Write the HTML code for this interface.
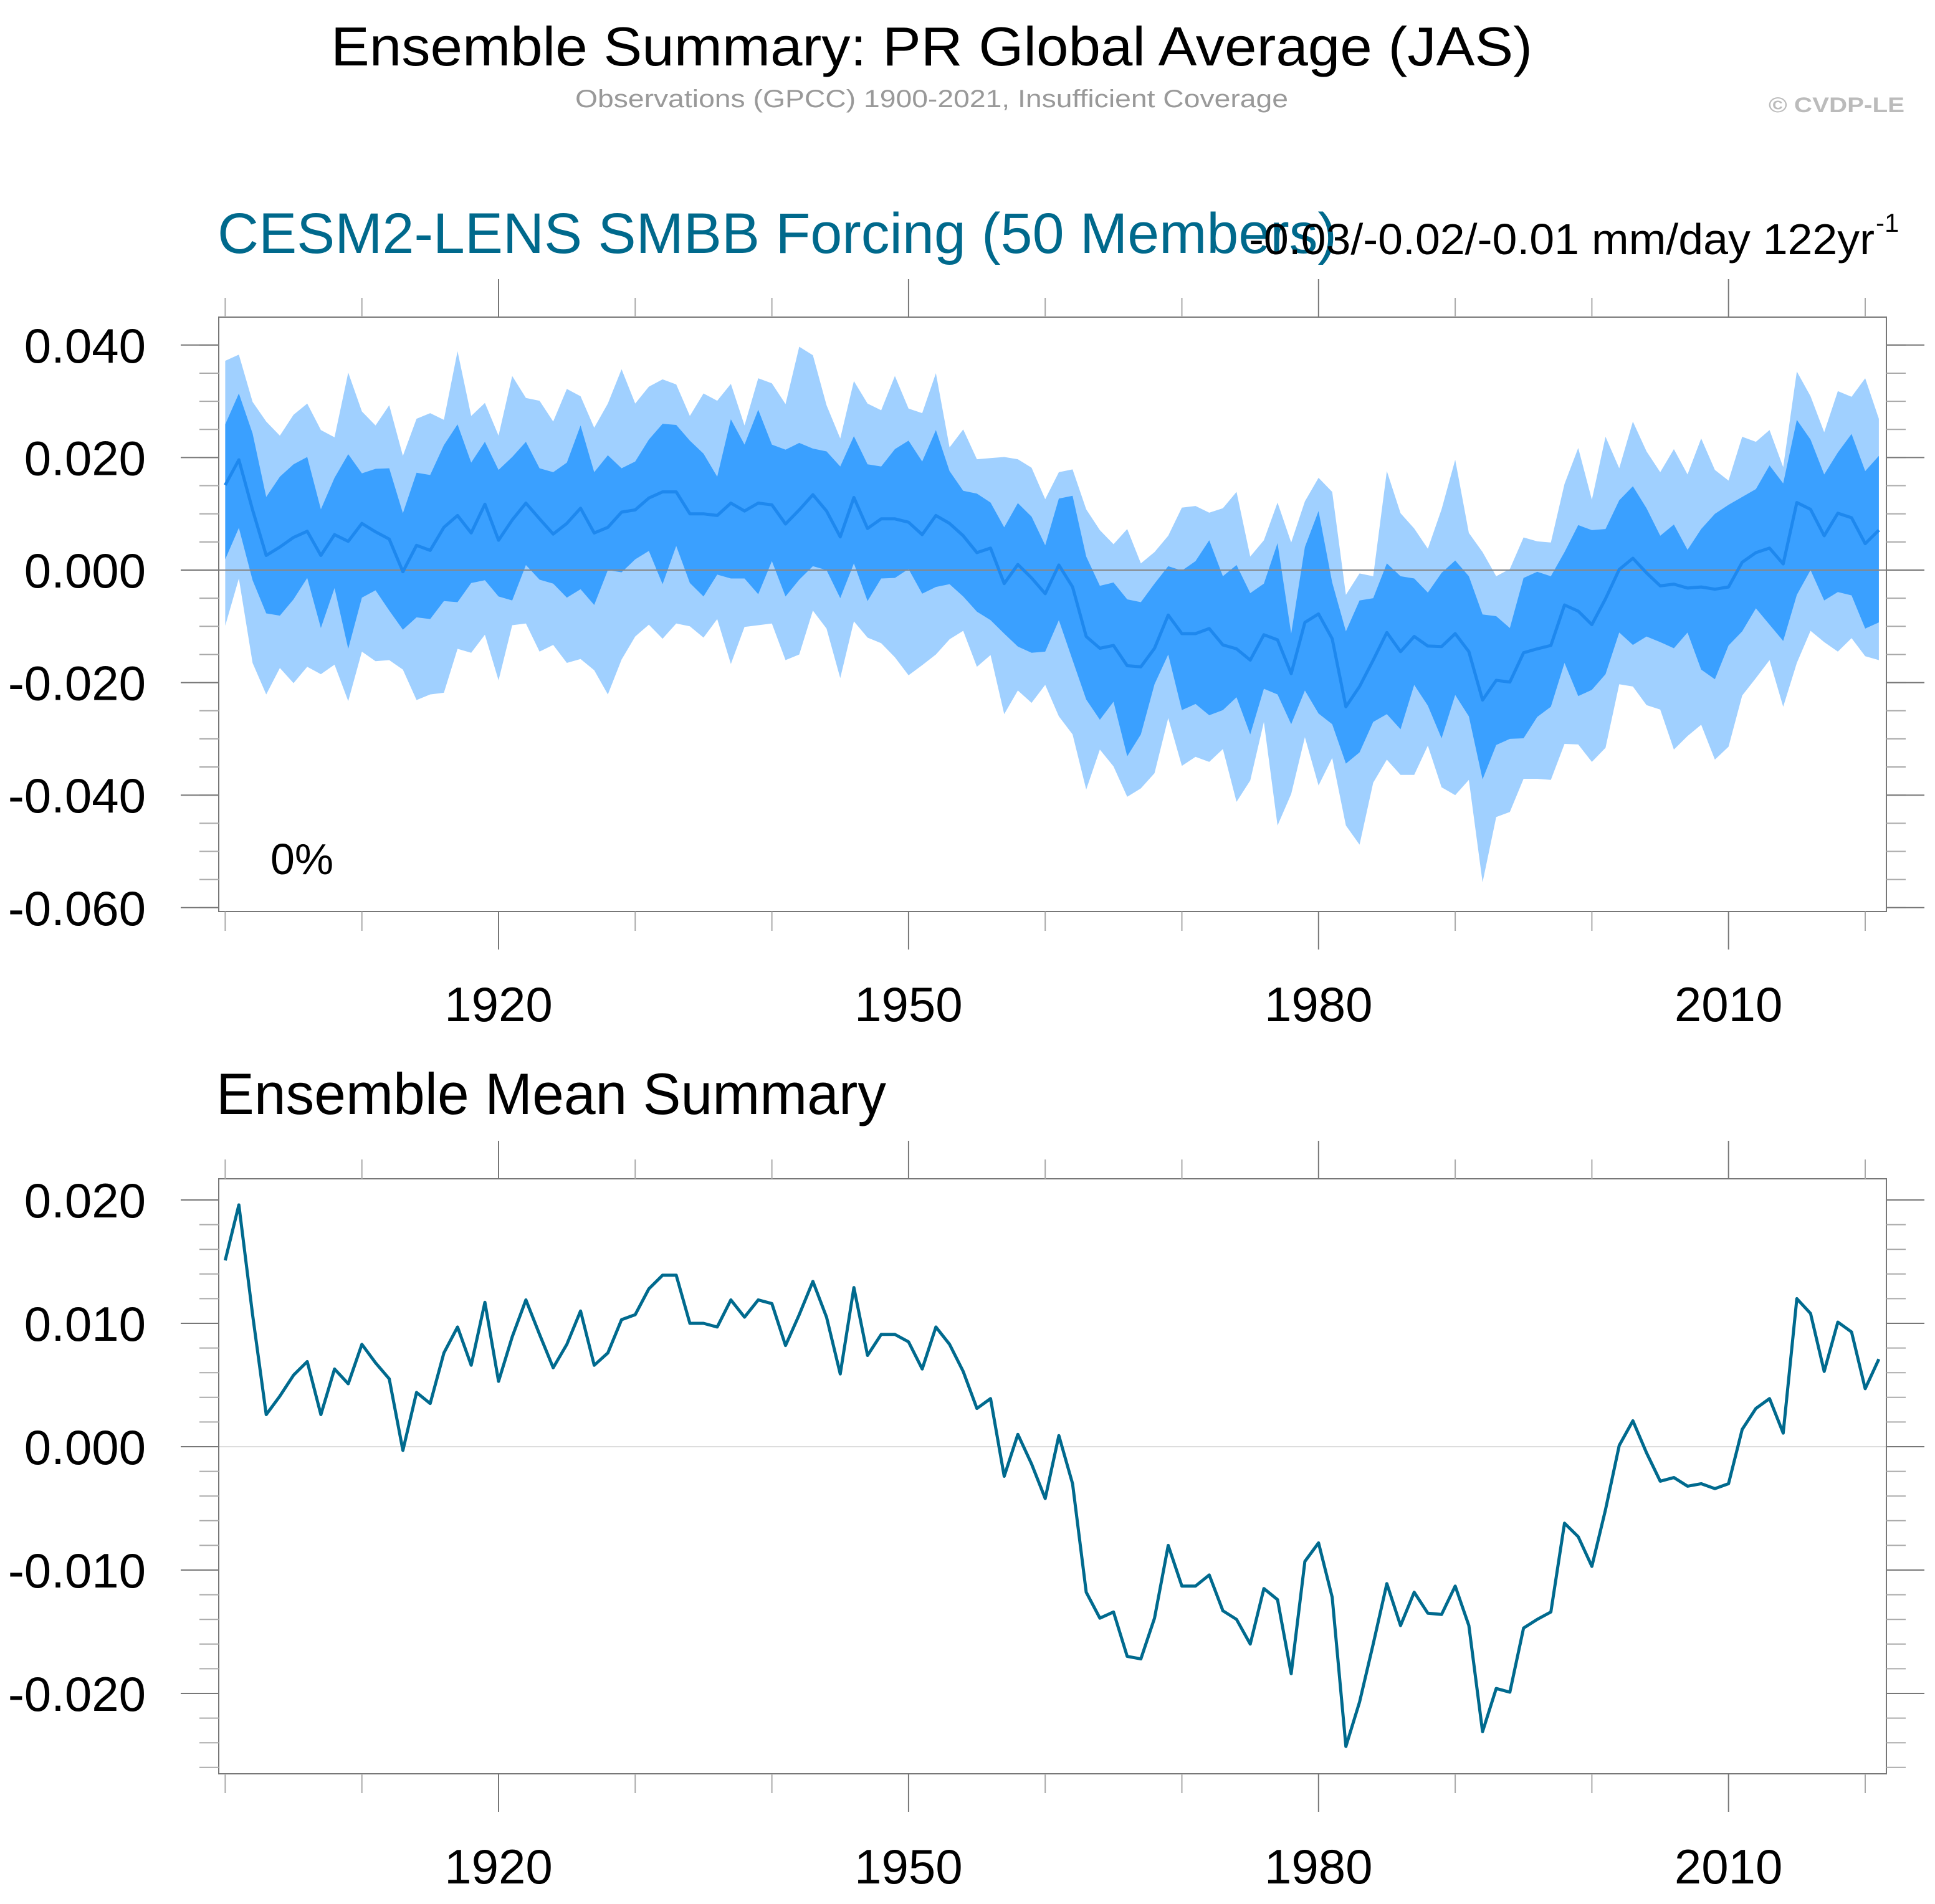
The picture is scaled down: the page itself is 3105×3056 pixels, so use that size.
<!DOCTYPE html>
<html><head><meta charset="utf-8"><title>Ensemble Summary: PR Global Average (JAS)</title>
<style>html,body{margin:0;padding:0;background:#fff}svg{display:block}text{font-family:"Liberation Sans",Arial,sans-serif}</style>
</head><body>
<svg id="chart" xmlns="http://www.w3.org/2000/svg" width="3105" height="3056" viewBox="0 0 3105 3056">
<rect x="0" y="0" width="3105" height="3056" fill="#fff"/>
<text x="531" y="105" font-size="88" textLength="1928" lengthAdjust="spacingAndGlyphs" fill="#000">Ensemble Summary: PR Global Average (JAS)</text>
<text x="923" y="172" font-size="40" textLength="1144" lengthAdjust="spacingAndGlyphs" fill="#999">Observations (GPCC) 1900-2021, Insufficient Coverage</text>
<text x="2838" y="180" font-size="34" font-weight="bold" textLength="218" lengthAdjust="spacingAndGlyphs" fill="#bbb">© CVDP-LE</text>
<text x="349" y="406" font-size="92" textLength="1796" lengthAdjust="spacingAndGlyphs" fill="#00698c">CESM2-LENS SMBB Forcing (50 Members)</text>
<text x="2004" y="408" font-size="70" textLength="1004" lengthAdjust="spacingAndGlyphs" fill="#000">-0.03/-0.02/-0.01 mm/day 122yr</text>
<text x="3010" y="372" font-size="42" fill="#000">-1</text>
<text x="347" y="1788" font-size="94" textLength="1075" lengthAdjust="spacingAndGlyphs" fill="#000">Ensemble Mean Summary</text>
<g id="top"></g>
<g id="bottom"></g>
</svg>
<script>
// Values in hundredths of mm/day (0.01 mm/day units), years 1900-2021
const startYear = 1900;
const meanVals = [1.51,1.96,1.07,0.26,0.41,0.58,0.69,0.26,0.63,0.51,0.83,0.68,0.55,-0.03,0.44,0.35,0.76,0.97,0.66,1.17,0.53,0.89,1.19,0.91,0.64,0.83,1.10,0.66,0.76,1.03,1.07,
1.28,1.39,1.39,1.00,1.00,0.97,1.19,1.05,1.19,1.16,0.82,1.07,1.34,1.05,0.59,1.29,0.74,0.91,0.91,0.85,0.63,0.97,0.83,0.61,0.31,0.39,-0.24,0.10,-0.14,-0.42,0.09,
-0.30,-1.18,-1.39,-1.34,-1.70,-1.72,-1.39,-0.80,-1.13,-1.13,-1.04,-1.33,-1.40,-1.60,-1.15,-1.24,-1.84,-0.93,-0.78,-1.22,-2.43,-2.07,-1.60,-1.11,-1.45,-1.18,-1.35,-1.36,-1.13,-1.45,
-2.31,-1.96,-1.99,-1.47,-1.40,-1.34,-0.62,-0.73,-0.97,-0.51,0.01,0.21,-0.05,-0.28,-0.25,-0.32,-0.30,-0.34,-0.30,0.14,0.31,0.39,0.11,1.20,1.08,0.61,1.01,0.93,0.47,0.71];
const outerUpper = [3.72,3.83,2.99,2.64,2.39,2.76,2.96,2.49,2.36,3.51,2.82,2.57,2.93,2.03,2.69,2.79,2.67,3.89,2.74,2.97,2.39,3.45,3.06,3.01,2.64,3.22,3.09,2.53,2.96,3.57,2.96,
3.26,3.39,3.30,2.74,3.14,3.01,3.31,2.57,3.41,3.32,2.95,3.97,3.82,2.93,2.34,3.36,2.96,2.84,3.45,2.87,2.79,3.50,2.18,2.50,1.97,1.99,2.01,1.97,1.82,1.26,1.74,
1.79,1.08,0.71,0.46,0.73,0.12,0.32,0.61,1.11,1.14,1.02,1.10,1.39,0.24,0.53,1.20,0.49,1.22,1.64,1.39,-0.44,-0.06,-0.11,1.76,1.01,0.74,0.38,1.08,1.96,0.66,
0.32,-0.11,0.02,0.58,0.51,0.49,1.53,2.17,1.25,2.37,1.81,2.64,2.11,1.74,2.15,1.70,2.34,1.78,1.59,2.37,2.28,2.49,1.83,3.53,3.09,2.45,3.18,3.08,3.41,2.69];
const innerUpper = [2.59,3.14,2.43,1.30,1.66,1.88,2.01,1.08,1.64,2.06,1.72,1.80,1.81,1.01,1.73,1.69,2.22,2.59,1.91,2.28,1.78,2.01,2.28,1.81,1.74,1.91,2.57,1.74,2.04,1.81,1.93,
2.32,2.60,2.58,2.30,2.07,1.66,2.68,2.23,2.85,2.23,2.14,2.26,2.16,2.11,1.84,2.38,1.88,1.84,2.15,2.30,1.93,2.49,1.76,1.41,1.36,1.20,0.76,1.19,0.95,0.44,1.27,
1.32,0.24,-0.28,-0.22,-0.52,-0.57,-0.24,0.07,-0.01,0.16,0.53,-0.11,0.09,-0.41,-0.24,0.48,-1.13,0.41,1.05,-0.22,-1.09,-0.54,-0.50,0.12,-0.11,-0.15,-0.40,-0.05,0.17,-0.11,
-0.79,-0.82,-1.03,-0.14,-0.03,-0.11,0.32,0.80,0.71,0.73,1.24,1.49,1.10,0.61,0.81,0.36,0.73,1.00,1.16,1.30,1.44,1.86,1.54,2.67,2.32,1.70,2.09,2.42,1.76,2.03];
const innerLower = [0.19,0.75,-0.18,-0.77,-0.81,-0.52,-0.14,-1.03,-0.32,-1.40,-0.49,-0.36,-0.72,-1.06,-0.84,-0.87,-0.55,-0.57,-0.23,-0.18,-0.47,-0.54,0.09,-0.17,-0.24,-0.49,-0.34,-0.62,0.00,-0.04,0.19,
0.34,-0.25,0.43,-0.23,-0.47,-0.08,-0.15,-0.15,-0.43,0.16,-0.47,-0.17,0.07,0.00,-0.50,0.12,-0.55,-0.15,-0.14,0.02,-0.42,-0.30,-0.25,-0.47,-0.74,-0.89,-1.13,-1.36,-1.47,-1.45,-0.89,
-1.60,-2.30,-2.66,-2.34,-3.31,-2.92,-2.03,-1.50,-2.49,-2.38,-2.58,-2.49,-2.26,-2.92,-2.11,-2.21,-2.74,-2.14,-2.55,-2.74,-3.44,-3.24,-2.70,-2.56,-2.83,-2.04,-2.41,-2.99,-2.22,-2.60,
-3.72,-3.11,-3.00,-2.99,-2.61,-2.43,-1.65,-2.24,-2.13,-1.85,-1.11,-1.33,-1.18,-1.28,-1.39,-1.11,-1.77,-1.94,-1.34,-1.09,-0.68,-0.97,-1.26,-0.44,0.00,-0.54,-0.39,-0.45,-1.04,-0.93];
const outerLower = [-0.99,-0.15,-1.65,-2.21,-1.74,-2.01,-1.72,-1.85,-1.68,-2.33,-1.45,-1.62,-1.60,-1.77,-2.31,-2.21,-2.18,-1.40,-1.47,-1.15,-1.96,-0.98,-0.95,-1.45,-1.33,-1.65,-1.58,-1.78,-2.21,-1.59,-1.18,
-0.97,-1.22,-0.95,-1.00,-1.20,-0.87,-1.67,-1.01,-0.98,-0.95,-1.60,-1.50,-0.72,-1.04,-1.92,-0.91,-1.20,-1.30,-1.55,-1.87,-1.69,-1.50,-1.23,-1.08,-1.72,-1.51,-2.56,-2.14,-2.36,-2.04,-2.60,
-2.92,-3.90,-3.19,-3.49,-4.03,-3.88,-3.61,-2.63,-3.48,-3.32,-3.41,-3.18,-4.12,-3.74,-2.70,-4.54,-3.98,-2.97,-3.83,-3.34,-4.54,-4.88,-3.78,-3.37,-3.64,-3.64,-3.12,-3.86,-4.00,-3.73,
-5.55,-4.39,-4.30,-3.71,-3.71,-3.73,-3.09,-3.10,-3.41,-3.16,-2.03,-2.07,-2.40,-2.48,-3.19,-2.95,-2.75,-3.37,-3.14,-2.23,-1.92,-1.60,-2.43,-1.65,-1.08,-1.28,-1.45,-1.21,-1.53,-1.60];
const xMajorTicks = [1920, 1950, 1980, 2010];
const xMinorTicks = [1900, 1910, 1930, 1940, 1960, 1970, 1990, 2000, 2020];
const topYTicks = [0.040, 0.020, 0.000, -0.020, -0.040, -0.060];
const topYTickLabels = ["0.040", "0.020", "0.000", "-0.020", "-0.040", "-0.060"];
const bottomYTicks = [0.020, 0.010, 0.000, -0.010, -0.020];
const bottomYTickLabels = ["0.020", "0.010", "0.000", "-0.010", "-0.020"];

const NS = "http://www.w3.org/2000/svg";
const FL = 351, FR = 3027;
const xOf = yr => 361.4 + (yr - 1900) * 21.93;
const topP = {g: document.getElementById('top'), top: 509, bot: 1463, zero: 915, ppu: 9030, minor: 0.005, label: 1639, name: 'top'};
const botP = {g: document.getElementById('bottom'), top: 1892, bot: 2847, zero: 2322, ppu: 19800, minor: 0.002, label: 3023, name: 'bottom'};
const yOf = (p, v) => p.zero - v * p.ppu;            // v in mm/day
const yH = (p, h) => yOf(p, h * 0.01);                // h in hundredths

function mk(tag, attrs, parent) {
  const e = document.createElementNS(NS, tag);
  for (const k in attrs) e.setAttribute(k, attrs[k]);
  parent.appendChild(e);
  return e;
}
function linePath(p, arr) {
  return arr.map((h, i) => (i ? 'L' : 'M') + xOf(startYear + i).toFixed(1) + ' ' + yH(p, h).toFixed(1)).join(' ');
}
function bandPath(p, up, lo) {
  let d = up.map((h, i) => (i ? 'L' : 'M') + xOf(startYear + i).toFixed(1) + ' ' + yH(p, h).toFixed(1)).join(' ');
  for (let i = lo.length - 1; i >= 0; i--) d += ' L' + xOf(startYear + i).toFixed(1) + ' ' + yH(p, lo[i]).toFixed(1);
  return d + ' Z';
}

function axes(p, ticks, labels, zeroColor) {
  const g = p.g;
  // zero reference line
  const z = mk('line', {x1: FL, x2: FR, y1: yOf(p, 0), y2: yOf(p, 0), stroke: zeroColor, 'stroke-width': 2}, g);
  
  
  // frame
  const f = mk('rect', {x: FL, y: p.top, width: FR - FL, height: p.bot - p.top, fill: 'none', stroke: '#777', 'stroke-width': 2}, g);
  
  
  // x ticks
  xMajorTicks.forEach(yr => {
    const x = xOf(yr);
    const t1 = mk('line', {x1: x, x2: x, y1: p.top - 61, y2: p.top, stroke: '#777', 'stroke-width': 2}, g);
    
    
    const t2 = mk('line', {x1: x, x2: x, y1: p.bot, y2: p.bot + 61, stroke: '#777', 'stroke-width': 2}, g);
    
    
    const tl = mk('text', {x: x, y: p.label, 'font-size': 78, 'text-anchor': 'middle', fill: '#000'}, g);
    tl.textContent = String(yr);
    
    
  });
  xMinorTicks.forEach(yr => {
    const x = xOf(yr);
    const t1 = mk('line', {x1: x, x2: x, y1: p.top - 31, y2: p.top, stroke: '#aaa', 'stroke-width': 2}, g);
    
    
    const t2 = mk('line', {x1: x, x2: x, y1: p.bot, y2: p.bot + 31, stroke: '#aaa', 'stroke-width': 2}, g);
    
    
  });
  // y minor ticks
  const vTop = (p.zero - p.top) / p.ppu, vBot = (p.zero - p.bot) / p.ppu;
  for (let k = Math.ceil(vBot / p.minor); k * p.minor <= vTop + 1e-9; k++) {
    const y = yOf(p, k * p.minor);
    if (y < p.top + 1 || y > p.bot - 1) continue;
    const a = mk('line', {x1: FL - 31, x2: FL, y1: y, y2: y, stroke: '#aaa', 'stroke-width': 2}, g);
    
    
    const b = mk('line', {x1: FR, x2: FR + 31, y1: y, y2: y, stroke: '#aaa', 'stroke-width': 2}, g);
    
    
  }
  ticks.forEach((v, i) => {
    const y = yOf(p, v);
    const a = mk('line', {x1: FL - 61, x2: FL, y1: y, y2: y, stroke: '#777', 'stroke-width': 2}, g);
    
    
    const b = mk('line', {x1: FR, x2: FR + 61, y1: y, y2: y, stroke: '#777', 'stroke-width': 2}, g);
    
    
    const t = mk('text', {x: 234, y: y + 28, 'font-size': 78, 'text-anchor': 'end', fill: '#000'}, g);
    t.textContent = labels[i];
    
    
  });
}

// top panel marks
const outer = mk('path', {d: bandPath(topP, outerUpper, outerLower), fill: '#a0d0ff', stroke: 'none'}, topP.g);


const inner = mk('path', {d: bandPath(topP, innerUpper, innerLower), fill: '#3aa0ff', stroke: 'none'}, topP.g);


axes(topP, topYTicks, topYTickLabels, '#888');
const ml = mk('path', {d: linePath(topP, meanVals), fill: 'none', stroke: '#1e88ee', 'stroke-width': 5, 'stroke-linejoin': 'round'}, topP.g);


const pct = mk('text', {x: 434, y: 1403, 'font-size': 70, fill: '#000'}, topP.g);
pct.textContent = '0%';



// bottom panel
axes(botP, bottomYTicks, bottomYTickLabels, '#ddd');
const bl = mk('path', {d: linePath(botP, meanVals), fill: 'none', stroke: '#006a8e', 'stroke-width': 5, 'stroke-linejoin': 'round'}, botP.g);


</script>
</body></html>
